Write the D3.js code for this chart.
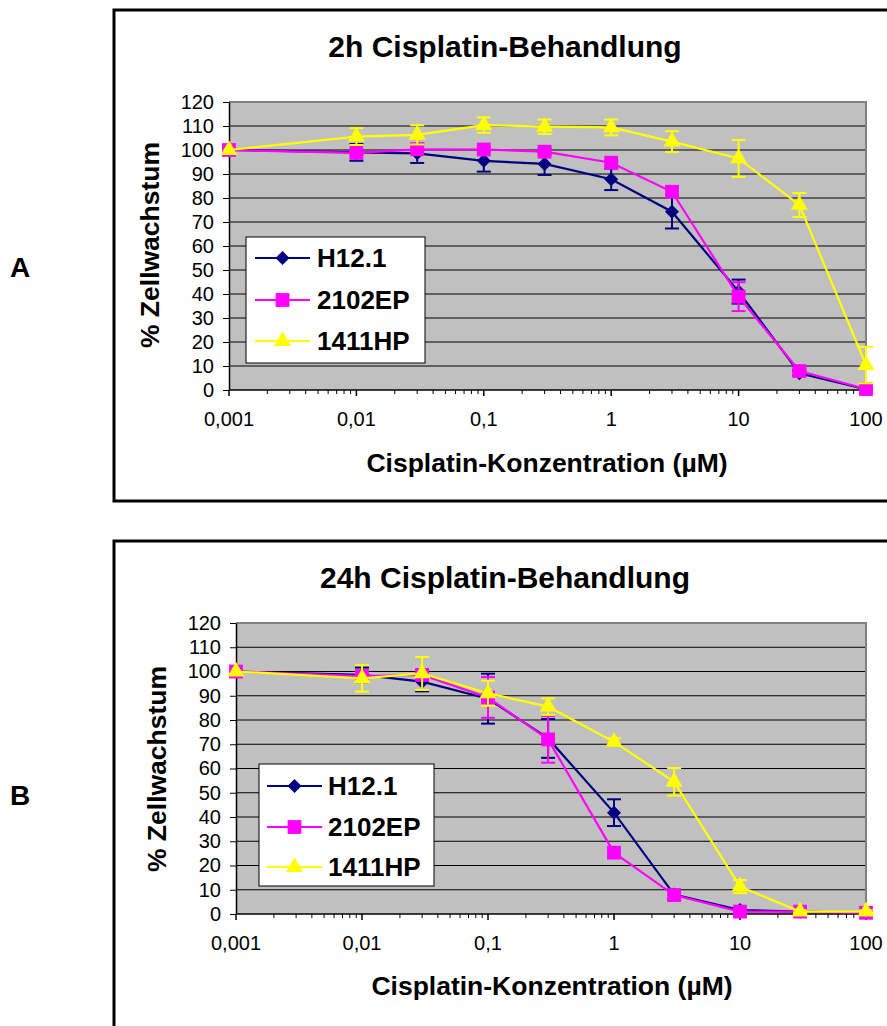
<!DOCTYPE html>
<html><head><meta charset="utf-8">
<script src="https://cdn.jsdelivr.net/npm/d3@7"></script>
<style>body{margin:0;background:#fff;}svg{display:block;font-family:Arial,"Liberation Sans",sans-serif;}</style>
</head><body>
<svg id="c" width="887" height="1026"></svg>
<script>
const conc = [0.001, 0.01, 0.03, 0.1, 0.3, 1, 3, 10, 30, 100];
const seriesNames = ["H12.1", "2102EP", "1411HP"];
const xTickLabels = ["0,001", "0,01", "0,1", "1", "10", "100"];
const yTicks = [0,10,20,30,40,50,60,70,80,90,100,110,120];

const a_H12 = [100, 99, 98.6, 95.5, 94.2, 87.8, 74.3, 41, 7, 0.3];
const a_H12_err = [0, 3.5, 4, 4.5, 4.6, 4.5, 7, 5, 1, 0.5];
const a_2102 = [100, 98.8, 100.3, 100.2, 99.3, 94.7, 82.6, 38.9, 7.9, 0.4];
const a_2102_err = [0, 1, 1, 1, 1.5, 1, 1.5, 6, 1, 0.5];
const a_1411 = [100, 105.6, 106.3, 110.4, 109.7, 109.4, 103.5, 96.5, 77.1, 10.4];
const a_1411_err = [0, 3.5, 4, 3.2, 3, 3.3, 4.3, 7.7, 5, 7.6];

const b_H12 = [100, 98.6, 95.8, 88.8, 72.4, 41.8, 8, 1.6, 1, 0.5];
const b_H12_err = [0, 3, 4, 10.3, 8, 5.5, 2, 0.5, 0.5, 0.5];
const b_2102 = [100, 98.1, 98.6, 89.3, 72, 25.3, 7.8, 1, 1, 0.5];
const b_2102_err = [0, 2, 2, 8.4, 9.6, 2, 1.5, 0.5, 0.5, 0.5];
const b_1411 = [100, 97.2, 99.2, 91, 85.5, 71, 54.5, 11.3, 1, 1];
const b_1411_err = [0, 5.5, 6.8, 5.2, 3.4, 1.5, 5.7, 2.7, 0.5, 0.5];

const colors = ["#000080", "#FF00FF", "#FFFF00"];
const wideDiamond = { draw(ctx, size) { const r = Math.sqrt(size / 2); ctx.moveTo(0, -r); ctx.lineTo(r, 0); ctx.lineTo(0, r); ctx.lineTo(-r, 0); ctx.closePath(); } };
const symbols = [wideDiamond, d3.symbolSquare, d3.symbolTriangle];
const symSizes = [98, 190, 125];

const svg = d3.select("#c");

function panel(cfg) {
  const g = svg.append("g");
  g.append("rect").attr("x", cfg.frame[0]).attr("y", cfg.frame[1]).attr("width", cfg.frame[2]).attr("height", cfg.frame[3])
    .attr("fill", "none").attr("stroke", "#000").attr("stroke-width", 3);
  g.append("text").attr("x", cfg.letter[0]).attr("y", cfg.letter[1]).attr("font-size", 28).attr("font-weight", "bold").text(cfg.letterText);
  g.append("text").attr("x", cfg.titleX).attr("y", cfg.titleY).attr("text-anchor", "middle").attr("font-size", 30).attr("font-weight", "bold").text(cfg.title);

  const x = d3.scaleLog().domain([0.001, 100]).range([cfg.left, cfg.right]);
  const y = d3.scaleLinear().domain([0, 120]).range([cfg.bottom, cfg.top]);

  g.append("rect").attr("x", cfg.left).attr("y", cfg.top).attr("width", cfg.right - cfg.left).attr("height", cfg.bottom - cfg.top).attr("fill", "#C0C0C0");
  g.selectAll(".grid").data(yTicks.filter(v => v > 0 && v < 120)).join("line")
    .attr("x1", cfg.left).attr("x2", cfg.right).attr("y1", d => y(d)).attr("y2", d => y(d))
    .attr("stroke", "#000").attr("stroke-width", 1);
  g.append("path").attr("d", `M${cfg.left},${cfg.top}H${cfg.right}V${cfg.bottom}`).attr("fill", "none").attr("stroke", "#808080").attr("stroke-width", 2);

  const ya = g.append("g").attr("transform", `translate(${cfg.left},0)`)
    .call(d3.axisLeft(y).tickValues(yTicks).tickSize(6).tickSizeOuter(0).tickPadding(9).tickFormat(d3.format("d")));
  ya.select(".domain").attr("stroke", "#000").attr("stroke-width", 1.5);
  ya.selectAll("text").attr("font-size", 20).attr("font-family", "Arial, 'Liberation Sans', sans-serif").attr("fill", "#000");

  const minor = [];
  for (let e = -3; e < 2; e++) for (let m = 2; m <= 9; m++) minor.push(m * Math.pow(10, e));
  const xa = g.append("g").attr("transform", `translate(0,${cfg.bottom})`);
  xa.append("line").attr("x1", cfg.left).attr("x2", cfg.right).attr("stroke", "#000").attr("stroke-width", 1.5);
  xa.selectAll(".mi").data(minor).join("line").attr("x1", d => x(d)).attr("x2", d => x(d)).attr("y1", 0).attr("y2", 4).attr("stroke", "#000");
  const major = [0.001, 0.01, 0.1, 1, 10, 100];
  xa.selectAll(".ma").data(major).join("line").attr("x1", d => x(d)).attr("x2", d => x(d)).attr("y1", 0).attr("y2", 6).attr("stroke", "#000").attr("stroke-width", 1.5);
  xa.selectAll(".lab").data(major).join("text").attr("x", d => x(d)).attr("y", cfg.tickLabelY - cfg.bottom)
    .attr("text-anchor", "middle").attr("font-size", 20).text((d, i) => xTickLabels[i]);

  g.append("text").attr("x", cfg.xTitleX).attr("y", cfg.xTitleY).attr("text-anchor", "middle").attr("font-size", 26.5).attr("font-weight", "bold").text("Cisplatin-Konzentration (µM)");
  g.append("text").attr("transform", `translate(${cfg.yTitle[0]},${cfg.yTitle[1]}) rotate(-90)`).attr("text-anchor", "middle").attr("dominant-baseline", "central")
    .attr("font-size", 26.5).attr("font-weight", "bold").text("% Zellwachstum");

  cfg.series.forEach((s, si) => {
    const pts = conc.map((c, i) => ({ c, v: s.v[i], e: s.e[i] }));
    const sg = g.append("g");
    const eg = sg.append("g").attr("stroke", colors[si]).attr("stroke-width", 2);
    pts.filter(p => p.e > 0).forEach(p => {
      const px = x(p.c), y1 = y(p.v + p.e), y2 = y(Math.max(0, p.v - p.e));
      eg.append("line").attr("x1", px).attr("x2", px).attr("y1", y1).attr("y2", y2);
      eg.append("line").attr("x1", px - 7).attr("x2", px + 7).attr("y1", y1).attr("y2", y1);
      eg.append("line").attr("x1", px - 7).attr("x2", px + 7).attr("y1", y2).attr("y2", y2);
    });
    sg.append("path").datum(pts).attr("d", d3.line().x(p => x(p.c)).y(p => y(p.v)))
      .attr("fill", "none").attr("stroke", colors[si]).attr("stroke-width", 2.2);
    sg.selectAll(".m").data(pts).join("path")
      .attr("transform", p => `translate(${x(p.c)},${y(p.v)})`)
      .attr("d", d3.symbol().type(symbols[si]).size(symSizes[si]))
      .attr("fill", colors[si]);
  });

  const L = cfg.legend;
  const lg = g.append("g");
  lg.append("rect").attr("x", L.x).attr("y", L.y).attr("width", L.w).attr("height", L.h).attr("fill", "#fff").attr("stroke", "#000").attr("stroke-width", 1);
  seriesNames.forEach((n, i) => {
    const ry = L.rows[i];
    lg.append("line").attr("x1", L.lx1).attr("x2", L.lx2).attr("y1", ry).attr("y2", ry).attr("stroke", colors[i]).attr("stroke-width", 2.2);
    lg.append("path").attr("transform", `translate(${(L.lx1 + L.lx2) / 2},${ry})`).attr("d", d3.symbol().type(symbols[i]).size(symSizes[i])).attr("fill", colors[i]);
    lg.append("text").attr("x", L.tx).attr("y", ry).attr("dominant-baseline", "central").attr("font-size", 26).attr("font-weight", "bold").text(n);
  });
}

panel({
  frame: [114, 10, 800, 491], letter: [10, 277], letterText: "A",
  title: "2h Cisplatin-Behandlung", titleX: 505, titleY: 57,
  left: 229, right: 866, top: 102, bottom: 390, tickLabelY: 426,
  xTitleX: 547, xTitleY: 472, yTitle: [150, 245],
  series: [{ v: a_H12, e: a_H12_err }, { v: a_2102, e: a_2102_err }, { v: a_1411, e: a_1411_err }],
  legend: { x: 246, y: 237, w: 179, h: 126, rows: [258, 300, 341], lx1: 255, lx2: 310, tx: 317 }
});
panel({
  frame: [114, 541, 800, 600], letter: [10, 805], letterText: "B",
  title: "24h Cisplatin-Behandlung", titleX: 505, titleY: 588,
  left: 236, right: 866, top: 623, bottom: 914, tickLabelY: 950,
  xTitleX: 552, xTitleY: 995, yTitle: [157, 769],
  series: [{ v: b_H12, e: b_H12_err }, { v: b_2102, e: b_2102_err }, { v: b_1411, e: b_1411_err }],
  legend: { x: 259, y: 764, w: 175, h: 122, rows: [786, 827, 867], lx1: 267, lx2: 322, tx: 328 }
});
</script>
</body></html>
